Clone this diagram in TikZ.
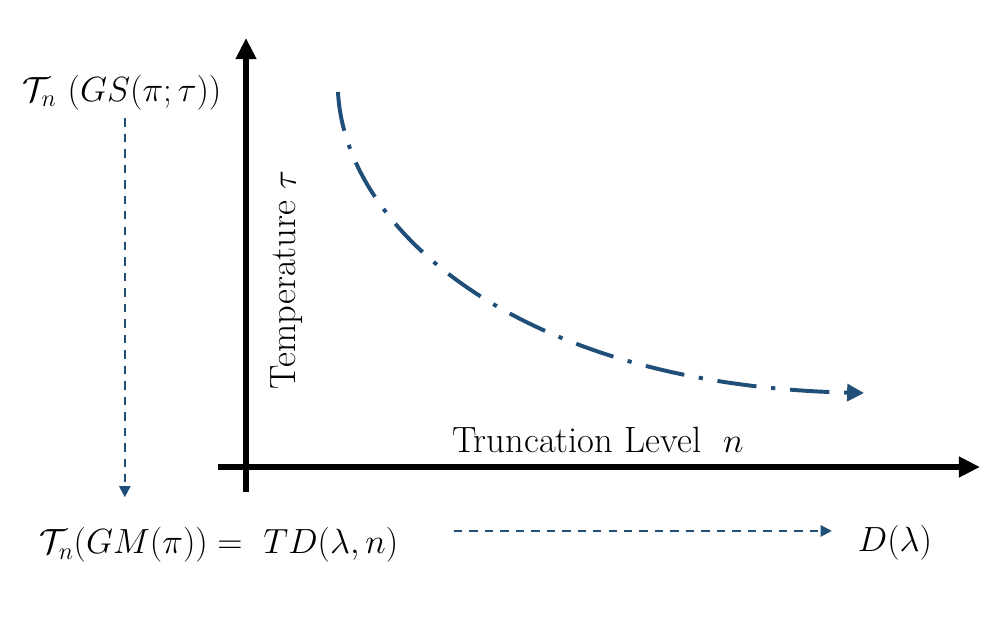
\documentclass[tikz,border=0pt]{standalone}
\usepackage{amsmath}
\usepackage{amssymb}
\usetikzlibrary{arrows.meta}
\definecolor{trendblue}{RGB}{31,78,121}

\begin{document}
\begin{tikzpicture}[x=0.025cm,y=-0.025cm,font=\fontsize{26}{31}\selectfont,
	axis/.style={line width=4.2pt,-{Triangle[length=15pt,width=14pt]}},
	trend/.style={trendblue,line width=2.8pt,dash pattern=on 28pt off 10.5pt on 3pt off 10.5pt,-{Triangle[length=12pt,width=12pt]}},
	flow/.style={trendblue,line width=1.5pt,dash pattern=on 6pt off 5pt,-{Triangle[length=8pt,width=8pt]}}]
			\useasboundingbox (0,0) rectangle (996,640);
			
			% axes
			\coordinate (ybot) at (246,492);
			\coordinate (ytop) at (246,38);
			\coordinate (xbeg) at (218,467);
			\coordinate (xend) at (980,467);
			\draw[axis] (ybot) -- (ytop);
			\draw[axis] (xbeg) -- (xend);
			
			\node (xlab) at (598,440) {Truncation Level~~$n$};
			\node[rotate=90] (ylab) at (287,280) {Temperature~$\tau$};
			
			% labels
			\node (gs) at (122,93) {$\mathcal{T}_n\ (GS(\pi;\tau))$};
			\node (gm) at (219,545) {$\mathcal{T}_n(GM(\pi)) =\ TD(\lambda,n)$};
			\node (dl) at (895,543) {$D(\lambda)$};
			
			\draw[flow,shorten <=2pt,shorten >=18pt] ([xshift=2pt]gs.south) -- ([xshift=2pt]gs.south |- gm.north);
			\draw[flow,shorten <=36pt,shorten >=15pt] ([yshift=10pt]gm.east) -- ([yshift=10pt]gm.east -| dl.west);
			
			% curve
			\coordinate (cstart) at (338,92);
			\coordinate (cend) at (864,393);
			\draw[trend] (cstart) .. controls (345,230) and (520,385) .. (cend);
\end{tikzpicture}
\end{document}
